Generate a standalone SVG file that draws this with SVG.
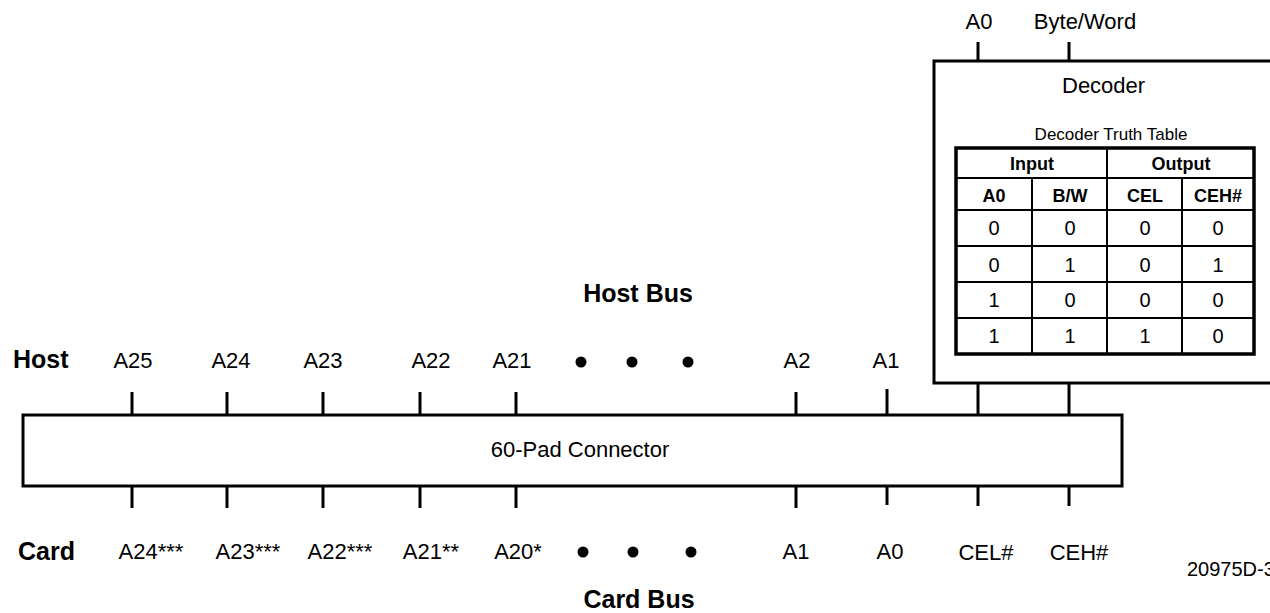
<svg xmlns="http://www.w3.org/2000/svg" width="1270" height="613" viewBox="0 0 1270 613">
<style>
text{font-family:"Liberation Sans",Arial,sans-serif;fill:#000}
.lb{font-size:22px}
.bd{font-size:25px;font-weight:bold}
.c{text-anchor:middle}
.th{font-size:18px;font-weight:bold;text-anchor:middle}
.td{font-size:20px;text-anchor:middle}
.box{fill:#fff;stroke:#000;stroke-width:3}
.tick{stroke:#000;stroke-width:3;fill:none}
.grid{stroke:#000;stroke-width:2;fill:none}
</style>
<rect width="1270" height="613" fill="#fff"/>
<g id="connectors">
<path class="tick" d="M978 42V61M1069 42V61"/>
<path class="tick" d="M132 392V415M227 392V415M323 392V415M420 392V415M516 392V415M796 392V415M887 389V415M978 383V415M1069 383V415"/>
<path class="tick" d="M132 486V508M227 486V508M323 486V508M420 486V508M516 486V508M796 486V508M887 486V505M978 486V506M1069 486V506"/>
</g>
<g id="decoder">
<rect class="box" x="934" y="61" width="360" height="322" stroke-width="2.5"/>
<text class="lb" x="1062" y="93">Decoder</text>
<text x="1111" y="140" font-size="17" text-anchor="middle">Decoder Truth Table</text>
</g>
<g id="truth-table">
<rect x="956" y="148" width="298" height="206" fill="none" stroke="#000" stroke-width="3.5"/>
<path class="grid" d="M956 178H1254M956 210H1254M956 246H1254M956 282H1254M956 318H1254M1107 148V354M1032 178V354M1182 178V354"/>
<text class="th" x="1032" y="170">Input</text>
<text class="th" x="1181" y="170">Output</text>
<text class="th" x="994" y="202">A0</text>
<text class="th" x="1070" y="202">B/W</text>
<text class="th" x="1145" y="202">CEL</text>
<text class="th" x="1218" y="202">CEH#</text>
<text class="td" x="994" y="235">0</text><text class="td" x="1070" y="235">0</text><text class="td" x="1145" y="235">0</text><text class="td" x="1218" y="235">0</text>
<text class="td" x="994" y="272">0</text><text class="td" x="1070" y="272">1</text><text class="td" x="1145" y="272">0</text><text class="td" x="1218" y="272">1</text>
<text class="td" x="994" y="307">1</text><text class="td" x="1070" y="307">0</text><text class="td" x="1145" y="307">0</text><text class="td" x="1218" y="307">0</text>
<text class="td" x="994" y="343">1</text><text class="td" x="1070" y="343">1</text><text class="td" x="1145" y="343">1</text><text class="td" x="1218" y="343">0</text>
</g>
<g id="decoder-inputs">
<text class="lb c" x="979" y="29">A0</text>
<text class="lb c" x="1085" y="29">Byte/Word</text>
</g>
<g id="connector">
<rect class="box" x="23" y="415" width="1099" height="71"/>
<text class="lb c" x="580" y="457">60-Pad Connector</text>
</g>
<g id="host-bus">
<text class="bd c" x="638" y="302">Host Bus</text>
<text class="bd" x="13" y="368">Host</text>
<text class="lb c" x="133" y="368">A25</text>
<text class="lb c" x="231" y="368">A24</text>
<text class="lb c" x="323" y="368">A23</text>
<text class="lb c" x="431" y="368">A22</text>
<text class="lb c" x="512" y="368">A21</text>
<circle cx="581" cy="362" r="5.5"/><circle cx="632" cy="362" r="5.5"/><circle cx="688" cy="362" r="5.5"/>
<text class="lb c" x="797" y="368">A2</text>
<text class="lb c" x="886" y="368">A1</text>
</g>
<g id="card-bus">
<text class="bd" x="18" y="560">Card</text>
<text class="lb c" x="151" y="559">A24***</text>
<text class="lb c" x="248" y="559">A23***</text>
<text class="lb c" x="340" y="559">A22***</text>
<text class="lb c" x="431" y="559">A21**</text>
<text class="lb c" x="518" y="559">A20*</text>
<circle cx="583" cy="552" r="5.5"/><circle cx="633" cy="552" r="5.5"/><circle cx="691" cy="552" r="5.5"/>
<text class="lb c" x="796" y="559">A1</text>
<text class="lb c" x="890" y="559">A0</text>
<text class="lb c" x="986" y="560">CEL#</text>
<text class="lb c" x="1079" y="560">CEH#</text>
<text class="bd c" x="639" y="608">Card Bus</text>
</g>
<text x="1187" y="576" font-size="20">20975D-3</text>
</svg>
